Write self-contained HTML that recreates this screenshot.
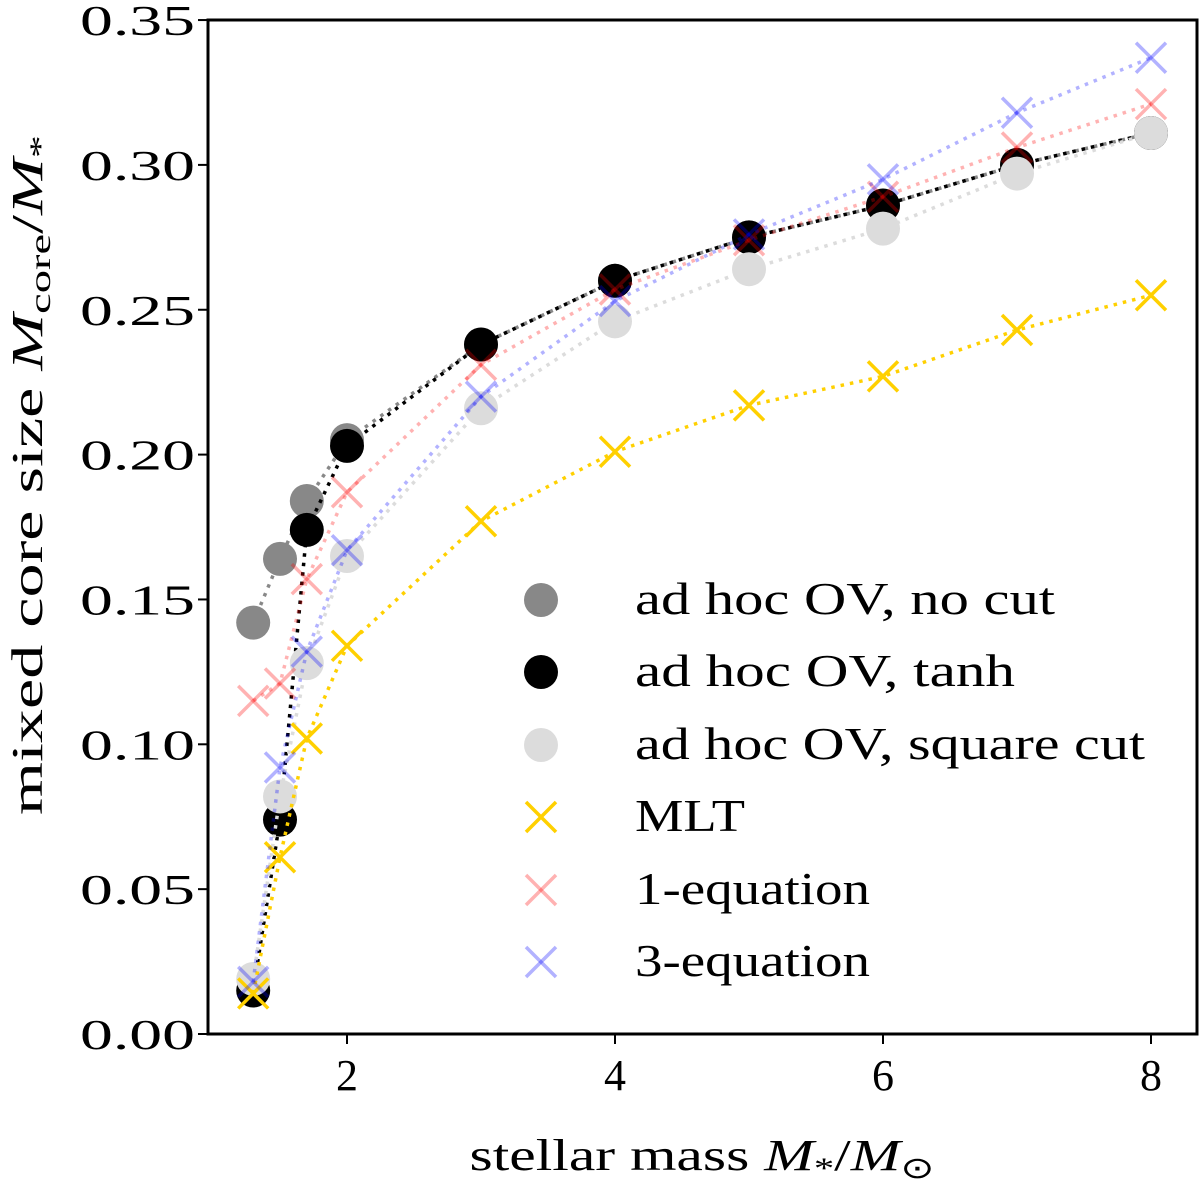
<!DOCTYPE html>
<html><head><meta charset="utf-8"><style>
body{margin:0;background:#fff}
svg text{font-family:"Liberation Serif",serif;fill:#000}
</style></head><body>
<svg id="chart" width="1200" height="1192" xmlns="http://www.w3.org/2000/svg">
<g id="marks"></g>
<rect x="208" y="20" width="989" height="1014" fill="none" stroke="#000" stroke-width="3"/>
<g id="axes"></g>
<g id="legend"></g>
<text x="702" y="1170" font-size="44" text-anchor="middle" textLength="465" lengthAdjust="spacingAndGlyphs">stellar mass <tspan font-style="italic">M</tspan><tspan font-size="30" dy="8">*</tspan><tspan dy="-8">/</tspan><tspan font-style="italic">M</tspan><tspan font-size="30" dy="8">⊙</tspan></text>
<text transform="translate(42,475) rotate(-90)" font-size="44" text-anchor="middle" textLength="680" lengthAdjust="spacingAndGlyphs">mixed core size <tspan font-style="italic">M</tspan><tspan font-size="30" dy="8">core</tspan><tspan dy="-8">/</tspan><tspan font-style="italic">M</tspan><tspan font-size="30" dy="8">*</tspan></text>
</svg>
<script>
const masses=[1.3,1.5,1.7,2,3,4,5,6,7,8];
const noCut=[0.142,0.164,0.184,0.205,0.238,0.260,0.275,0.286,0.300,0.311];
const tanhV=[0.015,0.074,0.174,0.203,0.238,0.260,0.275,0.286,0.300,0.311];
const square=[0.019,0.082,0.128,0.165,0.216,0.246,0.264,0.278,0.297,0.311];
const mlt=[0.014,0.061,0.102,0.134,0.177,0.201,0.217,0.227,0.243,0.255];
const oneEq=[0.115,0.121,0.157,0.187,0.231,0.257,0.274,0.289,0.306,0.321];
const threeEq=[0.018,0.092,0.132,0.167,0.220,0.253,0.276,0.295,0.318,0.337];
const xTicks=[2,4,6,8];
const yTicks=[0,0.05,0.10,0.15,0.20,0.25,0.30,0.35];
const labels=["ad hoc OV, no cut","ad hoc OV, tanh","ad hoc OV, square cut","MLT","1-equation","3-equation"];
const labelWidths=[420,380,510,110,235,235];
const NS="http://www.w3.org/2000/svg";
const X=v=>347+(v-2)*134, Y=v=>1034-v*2897;
function mk(t,a,p){const e=document.createElementNS(NS,t);for(const k in a)e.setAttribute(k,a[k]);p.appendChild(e);return e;}
const axes=document.getElementById('axes');
xTicks.forEach(t=>{mk('line',{x1:X(t),x2:X(t),y1:1034,y2:1044,stroke:'#000','stroke-width':2},axes);
 const tx=mk('text',{x:X(t),y:1090,'font-size':44,'text-anchor':'middle'},axes);tx.textContent=t;
 
 });
yTicks.forEach(t=>{mk('line',{x1:198,x2:208,y1:Y(t),y2:Y(t),stroke:'#000','stroke-width':2},axes);
 const tx=mk('text',{x:80,y:Y(t)+15,'font-size':42,textLength:115,lengthAdjust:'spacingAndGlyphs'},axes);tx.textContent=t.toFixed(2);
 
 });
const series=[
 {d:noCut,c:'#888888',o:1,m:'o',n:'no-cut'},
 {d:tanhV,c:'#000000',o:1,m:'o',n:'tanh'},
 {d:square,c:'#dcdcdc',o:1,m:'o',n:'square-cut'},
 {d:mlt,c:'#ffd000',o:1,m:'x',n:'mlt'},
 {d:oneEq,c:'#ff0000',o:0.3,m:'x',n:'one-equation'},
 {d:threeEq,c:'#0000ff',o:0.3,m:'x',n:'three-equation'}];
const marks=document.getElementById('marks');
function marker(s,x,y,p){
 if(s.m==='o'){const c=mk('circle',{cx:x,cy:y,r:17,fill:s.c,'fill-opacity':s.o},p);return c;}
 const g=mk('g',{stroke:s.c,'stroke-opacity':s.o,'stroke-width':3.5},p);
 mk('line',{x1:x-15,y1:y-15,x2:x+15,y2:y+15},g);mk('line',{x1:x-15,y1:y+15,x2:x+15,y2:y-15},g);return g;}
series.forEach(s=>{
 const g=mk('g',{},marks);
 
 
 const pl=mk('polyline',{points:masses.map((m,i)=>X(m)+','+Y(s.d[i])).join(' '),fill:'none',stroke:s.c,'stroke-opacity':s.o,'stroke-width':3.5,'stroke-dasharray':'3.5 6'},g);
 
 
 masses.forEach((m,i)=>{const e=marker(s,X(m),Y(s.d[i]),g);
  
  });
});
const lg=document.getElementById('legend');
const ly=[600,672,745,817,890,962];
series.forEach((s,i)=>{
 const g=mk('g',{},lg);
 
 
 marker(s,541,ly[i],g);
 const t=mk('text',{x:635,y:ly[i]+14,'font-size':46,textLength:labelWidths[i],lengthAdjust:'spacingAndGlyphs'},g);t.textContent=labels[i];
});
</script>
</body></html>
